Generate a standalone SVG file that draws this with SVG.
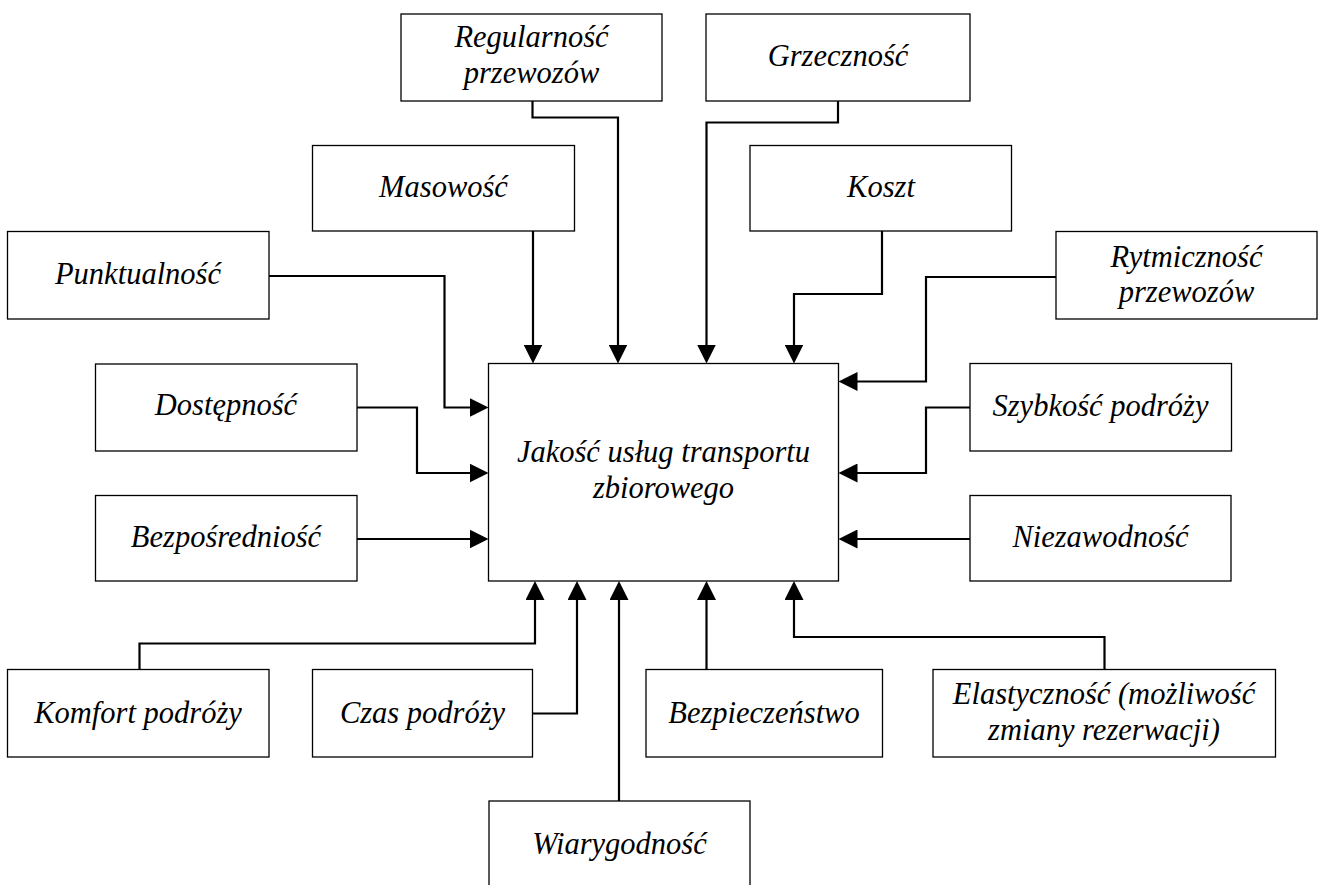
<svg xmlns="http://www.w3.org/2000/svg" width="1318" height="885" viewBox="0 0 1318 885">
<style>
.box{fill:#fff;stroke:#000;stroke-width:1.3}
.t{font-family:"Liberation Serif","Times New Roman",serif;font-style:italic;font-size:30.5px;fill:#000;text-anchor:middle}
.c{fill:none;stroke:#000;stroke-width:2.2;stroke-linejoin:miter;marker-end:url(#ah)}
</style>
<defs>
<marker id="ah" markerUnits="userSpaceOnUse" markerWidth="19" markerHeight="19" viewBox="0 0 19 19" refX="9" refY="9.5" orient="auto">
<path d="M0,0 L19,9.5 L0,19 Z" fill="#000"/>
</marker>
</defs>
<rect width="1318" height="885" fill="#fff"/>
<g id="connectors">
<path class="c" d="M532.5,101 V117.5 H618 V353.5"/>
<path class="c" d="M838,101 V122.5 H706.5 V353.5"/>
<path class="c" d="M533,231 V353.5"/>
<path class="c" d="M882,231 V294 H794 V353.5"/>
<path class="c" d="M269,276 H444.5 V407.5 H478.5"/>
<path class="c" d="M1056,277 H926 V381.5 H848.5"/>
<path class="c" d="M357,407.5 H417 V473 H478.5"/>
<path class="c" d="M970,407.5 H926 V473 H848.5"/>
<path class="c" d="M357,539 H478.5"/>
<path class="c" d="M970,539 H848.5"/>
<path class="c" d="M139.5,669.5 V643.5 H535 V591"/>
<path class="c" d="M532.5,713.5 H577 V591"/>
<path class="c" d="M619,801 V591"/>
<path class="c" d="M706.5,669.5 V591"/>
<path class="c" d="M1104.5,669.5 V637 H794 V591"/>
</g>
<g id="n-regularnosc"><rect class="box" x="401" y="14" width="261" height="87"/><text class="t" x="531.5" y="47">Regularność</text><text class="t" x="531.5" y="83">przewozów</text></g>
<g id="n-grzecznosc"><rect class="box" x="706" y="14" width="264" height="87"/><text class="t" x="838" y="65.5">Grzeczność</text></g>
<g id="n-masowosc"><rect class="box" x="312.5" y="145.5" width="262" height="85.5"/><text class="t" x="443.5" y="196.5">Masowość</text></g>
<g id="n-koszt"><rect class="box" x="750" y="145.5" width="261.5" height="85.5"/><text class="t" x="881" y="196.5">Koszt</text></g>
<g id="n-punktualnosc"><rect class="box" x="7.5" y="231.5" width="261.5" height="87.5"/><text class="t" x="138" y="283.5">Punktualność</text></g>
<g id="n-rytmicznosc"><rect class="box" x="1056" y="231.5" width="261" height="87.5"/><text class="t" x="1186.5" y="266.5">Rytmiczność</text><text class="t" x="1186.5" y="302">przewozów</text></g>
<g id="n-dostepnosc"><rect class="box" x="95.5" y="364" width="261.5" height="87"/><text class="t" x="226" y="415">Dostępność</text></g>
<g id="n-szybkosc"><rect class="box" x="970" y="363.5" width="261.5" height="87.5"/><text class="t" x="1100.5" y="416">Szybkość podróży</text></g>
<g id="n-bezposredniosc"><rect class="box" x="95.5" y="495.5" width="261.5" height="85.5"/><text class="t" x="226" y="547">Bezpośredniość</text></g>
<g id="n-niezawodnosc"><rect class="box" x="970" y="495.5" width="261" height="85.5"/><text class="t" x="1100.5" y="547">Niezawodność</text></g>
<g id="n-jakosc"><rect class="box" x="488.5" y="363.5" width="350" height="217.5"/><text class="t" x="663.5" y="462">Jakość usług transportu</text><text class="t" x="663.5" y="498">zbiorowego</text></g>
<g id="n-komfort"><rect class="box" x="7.5" y="669.5" width="261.5" height="87.5"/><text class="t" x="138" y="722.5">Komfort podróży</text></g>
<g id="n-czas"><rect class="box" x="312.5" y="669.5" width="220" height="87.5"/><text class="t" x="422.5" y="722.5">Czas podróży</text></g>
<g id="n-bezpieczenstwo"><rect class="box" x="646" y="669.5" width="236.5" height="87.5"/><text class="t" x="764" y="722.5">Bezpieczeństwo</text></g>
<g id="n-elastycznosc"><rect class="box" x="933" y="669.5" width="342.5" height="87.5"/><text class="t" x="1104" y="704">Elastyczność (możliwość</text><text class="t" x="1104" y="739.5">zmiany rezerwacji)</text></g>
<g id="n-wiarygodnosc"><rect class="box" x="489" y="801" width="261" height="100"/><text class="t" x="619.5" y="853.5">Wiarygodność</text></g>
</svg>
